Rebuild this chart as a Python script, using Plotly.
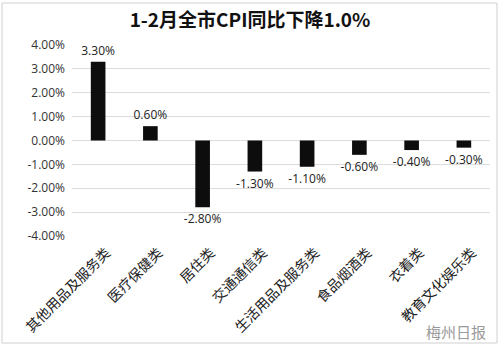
import plotly.graph_objects as go

categories = ["其他用品及服务类", "医疗保健类", "居住类", "交通通信类",
              "生活用品及服务类", "食品烟酒类", "衣着类", "教育文化娱乐类"]
values = [3.30, 0.60, -2.80, -1.30, -1.10, -0.60, -0.40, -0.30]
tick_vals = [4, 3, 2, 1, 0, -1, -2, -3, -4]
tick_text = [f"{v:.2f}%" for v in tick_vals]

labels = [f"{v:.2f}%" for v in values]

fig = go.Figure(go.Bar(
    x=categories,
    y=values,
    marker=dict(color="#0d0d0d", line=dict(width=0)),
    text=labels,
    textposition="outside",
    textangle=0,
    constraintext="none",
    outsidetextfont=dict(size=12, color="#222222", family="Open Sans, Noto Sans, sans-serif"),
    cliponaxis=False,
    width=0.28,
))

fig.update_layout(
    width=500, height=346,
    margin=dict(l=72, r=10, t=45, b=110),
    paper_bgcolor="white",
    plot_bgcolor="white",
    showlegend=False,
    title=dict(
        text="<b>1-2月全市CPI同比下降1.0%</b>",
        x=0.5, xanchor="center", y=0.94, yanchor="middle",
        font=dict(size=19, color="#111111", family="Noto Sans CJK SC, sans-serif"),
    ),
    xaxis=dict(
        tickangle=-45,
        tickfont=dict(size=14, color="#222222", family="Noto Sans CJK SC, serif"),
        showgrid=False, showline=False, ticks="",
        ticklabelshift=8, ticklabelstandoff=5,
    ),
    yaxis=dict(
        range=[-4, 4],
        tickvals=tick_vals, ticktext=tick_text,
        tickfont=dict(size=12, color="#333333", family="Open Sans, Noto Sans, sans-serif"),
        showgrid=True, gridcolor="#dcdcdc", gridwidth=1,
        zeroline=True, zerolinecolor="#dcdcdc", zerolinewidth=1,
        showline=False, ticks="", ticklabelstandoff=6,
    ),
    shapes=[dict(type="rect", xref="paper", yref="paper",
                 x0=-70/418, x1=1 + 7/418, y0=-107/191, y1=1 + 42/191,
                 line=dict(color="#d0d0d0", width=1))],
    annotations=[dict(text="梅州日报", xref="paper", yref="paper",
                      x=0.995, y=-0.5, xanchor="right", yanchor="middle",
                      showarrow=False,
                      font=dict(size=15, color="#9a9a9a", family="Noto Sans CJK SC"))],
)

fig.write_html("out.html")
